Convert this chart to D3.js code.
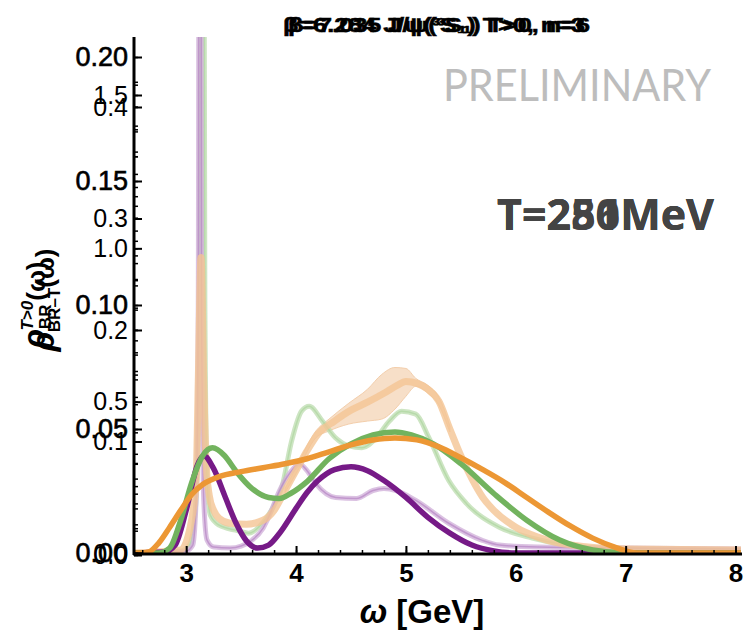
<!DOCTYPE html>
<html><head><meta charset="utf-8">
<script src="https://cdn.jsdelivr.net/npm/d3@7"></script>
<style>body{margin:0;background:#fff}svg{display:block}</style>
</head><body>
<svg id="c" width="749" height="632"></svg>
<script>
// ---- data (ω in GeV, spectral function in units of the 0–0.20 axis) ----
const darkPurpleW = [2.525,2.8,2.9,3.0,3.1,3.16,3.25,3.35,3.45,3.55,3.65,3.75,3.85,4.0,4.1,4.2,4.35,4.5,4.65,4.8,5.0,5.2,5.4,5.6,5.8,6.0,8.05];
const darkPurpleV = [0,0.0004,0.0032,0.0172,0.0352,0.0392,0.034,0.0232,0.0124,0.0048,0.002,0.0032,0.008,0.018,0.0244,0.0292,0.0336,0.0348,0.0332,0.0292,0.0224,0.0144,0.008,0.0032,0.0008,0,0];

const greenW = [2.525,2.75,2.85,2.95,3.05,3.15,3.24,3.35,3.45,3.6,3.75,3.85,3.95,4.1,4.3,4.5,4.7,4.9,5.05,5.25,5.5,5.8,6.1,6.4,6.7,7.0,8.05];
const greenV = [0,0,0.002,0.0132,0.0284,0.0392,0.0424,0.0392,0.0332,0.026,0.0224,0.022,0.024,0.0288,0.038,0.044,0.0476,0.0488,0.0476,0.044,0.036,0.024,0.0132,0.0052,0.0012,0,0];

const orangeW = [2.525,2.6,2.66,2.75,2.85,2.95,3.05,3.15,3.3,3.5,3.7,3.9,4.1,4.3,4.5,4.7,4.9,5.1,5.3,5.5,5.7,5.9,6.1,6.3,6.5,6.7,6.9,7.1,8.05];
const orangeV = [0,0,0.0004,0.004,0.0104,0.0172,0.0236,0.0276,0.0308,0.0328,0.0344,0.036,0.038,0.0408,0.0436,0.0456,0.0464,0.0456,0.0428,0.0384,0.0336,0.0284,0.0224,0.0164,0.0108,0.006,0.0024,0,0];

const lightPurpleW = [2.525,2.9,3.0,3.06,3.09,3.11,3.125,3.14,3.16,3.19,3.25,3.4,3.5,3.6,3.7,3.75,3.85,3.96,4.03,4.1,4.18,4.36,4.55,4.7,4.8,4.91,5.09,5.39,5.69,5.85,6.2,7.0,8.05];
const lightPurpleV = [0,0.0004,0.0008,0.0032,0.0212,0.1012,0.6,0.1012,0.0212,0.0052,0.0024,0.002,0.0028,0.0052,0.01,0.0144,0.0252,0.0332,0.036,0.0332,0.028,0.0224,0.022,0.0252,0.026,0.0252,0.0212,0.012,0.0052,0.0032,0.0024,0.002,0.0016];

const lightGreenW = [2.525,2.95,3.03,3.09,3.12,3.145,3.17,3.19,3.22,3.3,3.45,3.57,3.7,3.8,3.87,3.96,4.05,4.12,4.24,4.36,4.48,4.6,4.73,4.85,4.96,5.09,5.21,5.39,5.55,5.85,6.15,6.46,6.76,8.05];
const lightGreenV = [0,0.0008,0.0032,0.0212,0.1012,0.6,0.1012,0.0292,0.0152,0.0112,0.0092,0.008,0.0124,0.0192,0.0264,0.0452,0.0572,0.0592,0.0532,0.0464,0.0432,0.0424,0.0464,0.0532,0.0572,0.056,0.0464,0.0292,0.02,0.0104,0.006,0.0032,0.002,0.0012];

const lightOrangeW = [2.525,2.95,3.03,3.09,3.11,3.135,3.16,3.18,3.21,3.25,3.3,3.4,3.55,3.7,3.8,3.9,4.0,4.1,4.2,4.35,4.5,4.65,4.8,4.92,5.0,5.1,5.2,5.3,5.4,5.5,5.6,5.7,5.8,6.0,6.2,6.5,7.0,8.05];
const lightOrangeV = [0,0.0012,0.0092,0.0292,0.0692,0.1192,0.0692,0.0372,0.0232,0.0172,0.014,0.012,0.0116,0.0132,0.0172,0.0252,0.0332,0.0412,0.048,0.0532,0.0576,0.0608,0.0644,0.0676,0.0692,0.0684,0.066,0.0612,0.05,0.0392,0.03,0.0224,0.0172,0.0104,0.0064,0.0032,0.0016,0.0012];

const bandW  = [3.9,4.0,4.18,4.3,4.48,4.65,4.78,4.9,5.0,5.09,5.2,5.3,5.4];
const bandLo = [0.0244,0.032,0.0464,0.0492,0.052,0.0532,0.054,0.058,0.0632,0.0672,0.0644,0.0596,0.0488];
const bandHi = [0.026,0.0344,0.0492,0.054,0.0604,0.066,0.072,0.0748,0.0744,0.0704,0.0676,0.0628,0.0512];

// tick labels of the three overlaid y axes and the x axis
const yTicksA = [0,0.05,0.10,0.15,0.20];
const yTicksB = [0,0.1,0.2,0.3,0.4];
const yTicksC = [0,0.5,1.0,1.5];
const xTicks  = [3,4,5,6,7,8];

const titles = ["β=6.284 J/ψ(³S₁) T>0, n=3", "β=7.035 J/ψ(³S₁) T>0, n=6"];
const tempLabels = ["T=251MeV", "T=280MeV", "T=256MeV"];

// ---- drawing ----
const svg = d3.select("#c");
const F = "'Liberation Sans', Arial, sans-serif";
const x  = d3.scaleLinear().domain([2.525, 8.05]).range([134, 741]);
const yA = d3.scaleLinear().domain([0, 0.2]).range([553, 57]);
const yB = d3.scaleLinear().domain([0, 0.4]).range([553, 107]);
const yC = d3.scaleLinear().domain([0, 1.5]).range([555, 95]);

svg.append("defs").append("clipPath").attr("id","clip")
  .append("rect").attr("x",134).attr("y",37).attr("width",608).attr("height",518);

const zip = (w,v) => w.map((d,i)=>[d,v[i]]);
const line = d3.line().x(d=>x(d[0])).y(d=>yA(d[1])).curve(d3.curveMonotoneX);
const g = svg.append("g").attr("clip-path","url(#clip)");

// orange band
const area = d3.area().x(d=>x(d[0])).y0(d=>yA(d[1])).y1(d=>yA(d[2])).curve(d3.curveMonotoneX);
const bandData = bandW.map((w,i)=>[w,bandLo[i],bandHi[i]]);
g.append("path").attr("d",area(bandData)).attr("fill","#f7dcc3").attr("stroke","#f2c9a2").attr("stroke-width",1).attr("opacity",0.9);

function lightLine(w,v,col,wid,op){
  g.append("path").attr("d",line(zip(w,v))).attr("fill","none").attr("stroke",col)
   .attr("stroke-width",wid).attr("opacity",op).attr("stroke-linejoin","round");
}
lightLine(lightGreenW, lightGreenV, "#bcdcaf", 5, 0.75);
lightLine(lightGreenW, lightGreenV, "#a9d39a", 1.5, 0.6);
lightLine(lightPurpleW, lightPurpleV, "#cfaed8", 5, 0.75);
lightLine(lightPurpleW, lightPurpleV, "#b784c4", 1.5, 0.7);
lightLine(lightOrangeW, lightOrangeV, "#f4c494", 7, 0.8);

function thick(w,v,col){
  g.append("path").attr("d",line(zip(w,v))).attr("fill","none").attr("stroke",col)
   .attr("stroke-width",5.5).attr("stroke-linejoin","round");
}
thick(darkPurpleW, darkPurpleV, "#761a87");
thick(greenW, greenV, "#72b35e");
thick(orangeW, orangeV, "#ec9734");

// axes lines
svg.append("line").attr("x1",134).attr("x2",134).attr("y1",37).attr("y2",555).attr("stroke","#000").attr("stroke-width",3);
svg.append("line").attr("x1",133).attr("x2",742).attr("y1",554).attr("y2",554).attr("stroke","#000").attr("stroke-width",3);

function yAxis(scale, major, minor, fmt, fs){
  const a = svg.append("g").attr("transform","translate(134,0)")
    .call(d3.axisLeft(scale).tickValues(major).tickSize(-8).tickSizeOuter(0).tickPadding(6).tickFormat(d3.format(fmt)));
  a.select(".domain").remove();
  a.selectAll("line").attr("stroke-width",2);
  a.selectAll("text").attr("font-family",F).attr("font-size",fs).attr("fill","#000");
  const m = svg.append("g").attr("transform","translate(134,0)")
    .call(d3.axisLeft(scale).tickValues(minor).tickSize(-4).tickFormat(""));
  m.select(".domain").remove();
  m.selectAll("line").attr("stroke-width",1.5);
  return a;
}
const aA = yAxis(yA, yTicksA, d3.range(0,0.2085,0.01), ".2f", 27);
aA.selectAll("text").attr("stroke","#000").attr("stroke-width",0.6);
yAxis(yB, yTicksB, d3.range(0,0.43,0.02), ".1f", 25);
yAxis(yC, yTicksC, d3.range(0,1.56,0.1), ".1f", 25);

const ax = svg.append("g").attr("transform","translate(0,554)")
  .call(d3.axisBottom(x).tickValues(xTicks).tickSize(-8).tickSizeOuter(0).tickPadding(10).tickFormat(d3.format("d")));
ax.select(".domain").remove();
ax.selectAll("line").attr("stroke-width",2);
ax.selectAll("text").attr("font-family",F).attr("font-size",26).attr("font-weight","bold").attr("fill","#000");
const axm = svg.append("g").attr("transform","translate(0,554)")
  .call(d3.axisBottom(x).tickValues(d3.range(2.6,8.01,0.2)).tickSize(-4).tickFormat(""));
axm.select(".domain").remove();
axm.selectAll("line").attr("stroke-width",1.5);

// x label
const xl = svg.append("text").attr("x",422).attr("y",623).attr("text-anchor","middle")
  .attr("font-family",F).attr("font-size",33).attr("font-weight","bold");
xl.append("tspan").attr("font-style","italic").text("ω");
xl.append("tspan").text(" [GeV]");

// y labels (two overlaid)
function yLabel(tx, ty, sup, sub){
  const t = svg.append("text").attr("transform",`translate(${tx},${ty}) rotate(-90)`)
    .attr("text-anchor","middle").attr("font-family",F).attr("font-weight","bold").attr("font-size",26);
  t.append("tspan").attr("font-style","italic").attr("font-size",32).text("ρ");
  t.append("tspan").attr("font-size",17).attr("dy",6).text(sub);
  if (sup) t.append("tspan").attr("font-size",17).attr("font-style","italic").attr("dx",-26).attr("dy",-18).text(sup);
  t.append("tspan").attr("dy", sup?12:-6).text("(ω)");
}
yLabel(45, 305, "T>0", "BR");
yLabel(54, 300, null, "BR–T");

// titles
titles.forEach((s,i)=>{
  svg.append("text").attr("x",283+i*5).attr("y",32).attr("font-family",F).attr("font-weight","bold")
    .attr("font-size",20).attr("stroke","#000").attr("stroke-width",0.5)
    .attr("textLength",302).attr("lengthAdjust","spacingAndGlyphs").text(s);
});

svg.append("text").attr("x",443).attr("y",101).attr("font-family","Lato, 'Open Sans', sans-serif")
  .attr("font-size",44).attr("fill","#bdbdbd").attr("textLength",268).attr("lengthAdjust","spacingAndGlyphs").text("PRELIMINARY");

tempLabels.forEach(s=>{
  svg.append("text").attr("x",497).attr("y",230).attr("font-family","'Open Sans', sans-serif")
    .attr("font-weight","bold").attr("font-size",43).attr("fill","#444").attr("textLength",217)
    .attr("lengthAdjust","spacingAndGlyphs").text(s);
});
</script>
</body></html>
